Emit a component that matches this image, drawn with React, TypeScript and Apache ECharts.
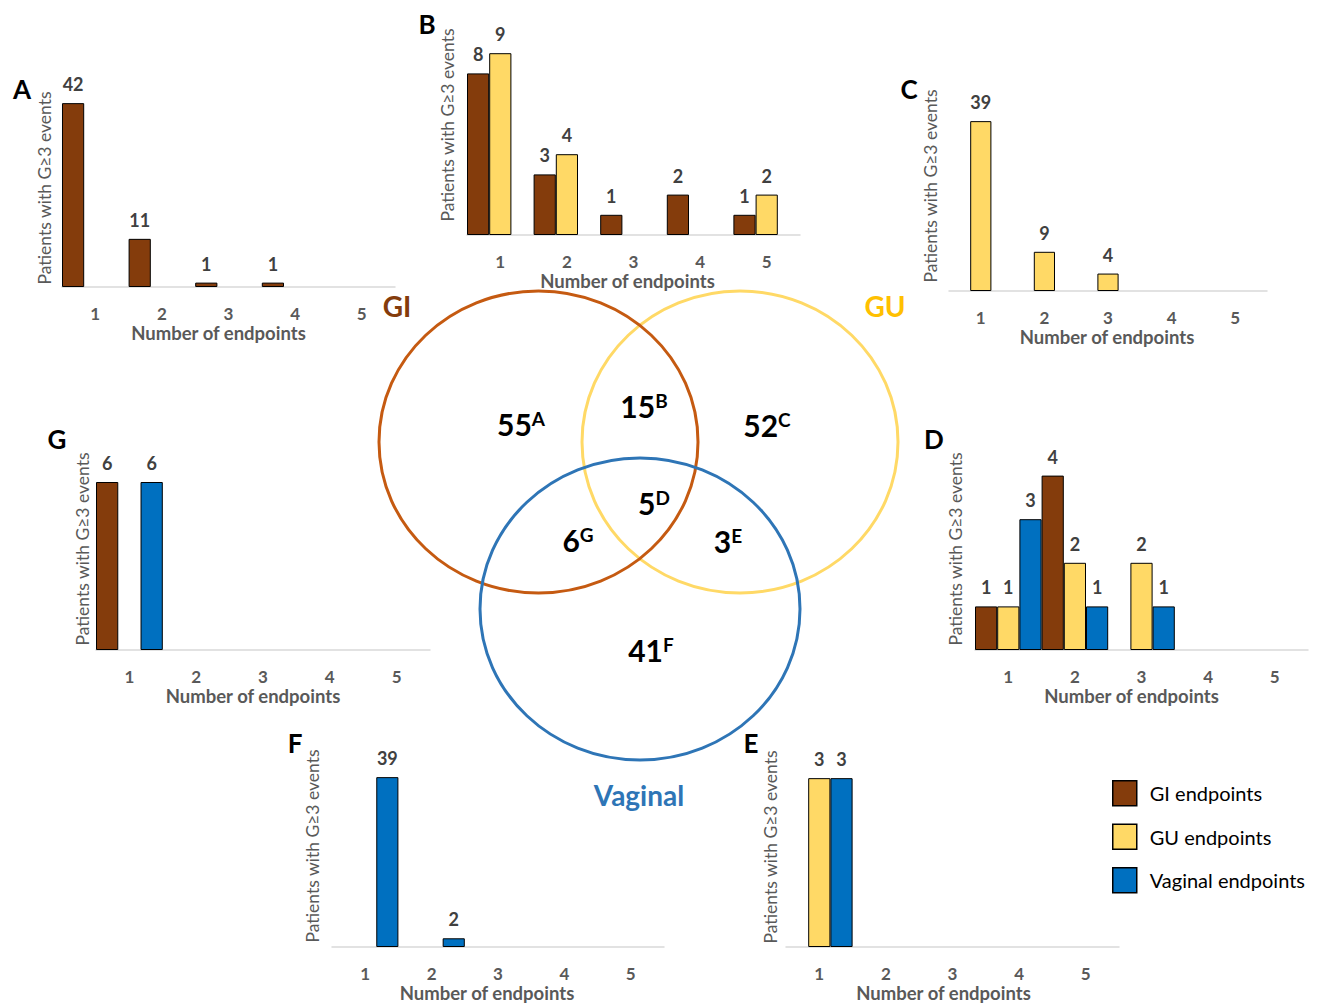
import React, { useEffect, useRef } from 'react';
import * as echarts from 'echarts';

// ---------- data ----------
const categories = ['1', '2', '3', '4', '5'];
const seriesNames = ['GI endpoints', 'GU endpoints', 'Vaginal endpoints'];
const seriesColors = ['#843C0C', '#FFD966', '#0070C0'];

const panelA_GI = [42, 11, 1, 1, 0];
const panelA_GU = [0, 0, 0, 0, 0];
const panelA_Vag = [0, 0, 0, 0, 0];

const panelB_GI = [8, 3, 1, 2, 1];
const panelB_GU = [9, 4, 0, 0, 2];
const panelB_Vag = [0, 0, 0, 0, 0];

const panelC_GI = [0, 0, 0, 0, 0];
const panelC_GU = [39, 9, 4, 0, 0];
const panelC_Vag = [0, 0, 0, 0, 0];

const panelD_GI = [1, 4, 0, 0, 0];
const panelD_GU = [1, 2, 2, 0, 0];
const panelD_Vag = [3, 1, 1, 0, 0];

const panelE_GI = [0, 0, 0, 0, 0];
const panelE_GU = [3, 0, 0, 0, 0];
const panelE_Vag = [3, 0, 0, 0, 0];

const panelF_GI = [0, 0, 0, 0, 0];
const panelF_GU = [0, 0, 0, 0, 0];
const panelF_Vag = [39, 2, 0, 0, 0];

const panelG_GI = [6, 0, 0, 0, 0];
const panelG_GU = [0, 0, 0, 0, 0];
const panelG_Vag = [6, 0, 0, 0, 0];

const vennRegions = ['A', 'B', 'C', 'D', 'E', 'F', 'G'];
const vennValues = [55, 15, 52, 5, 3, 41, 6];
const vennSets = ['GI', 'GU', 'Vaginal'];

const yTitle = 'Patients with G≥3 events';
const xTitle = 'Number of endpoints';

// ---------- layout / style ----------
const FONT = 'Lato, "Open Sans", sans-serif';
const GRAY = '#595959';
const DARK = '#404040';

const panels = [
  { id: 'A', data: [panelA_GI, panelA_GU, panelA_Vag], yMax: 45, grid: { left: 62, top: 90, width: 333, height: 197 }, letter: [22, 89], yt: [44, 188], nameShift: 10 },
  { id: 'B', data: [panelB_GI, panelB_GU, panelB_Vag], yMax: 10, grid: { left: 467, top: 33, width: 333, height: 202 }, letter: [427, 24], yt: [447, 125], nameShift: 6 },
  { id: 'C', data: [panelC_GI, panelC_GU, panelC_Vag], yMax: 45, grid: { left: 949, top: 95, width: 318, height: 196 }, letter: [909, 89], yt: [930, 186], nameShift: 1 },
  { id: 'D', data: [panelD_GI, panelD_GU, panelD_Vag], yMax: 5, grid: { left: 975, top: 432, width: 333, height: 218 }, letter: [934, 439], yt: [955, 549], nameShift: 10 },
  { id: 'E', data: [panelE_GI, panelE_GU, panelE_Vag], yMax: 3.5, grid: { left: 786, top: 750, width: 333, height: 197 }, letter: [751, 743], yt: [770, 847], nameShift: 9 },
  { id: 'F', data: [panelF_GI, panelF_GU, panelF_Vag], yMax: 45, grid: { left: 332, top: 751, width: 332, height: 196 }, letter: [295, 743], yt: [312, 846], nameShift: 11 },
  { id: 'G', data: [panelG_GI, panelG_GU, panelG_Vag], yMax: 7, grid: { left: 96, top: 454, width: 334, height: 196 }, letter: [57, 439], yt: [82, 549], nameShift: 10 },
];

const vennLabelPos: Record<string, [number, number]> = {
  A: [521, 424], B: [644, 406], C: [767, 425], D: [654, 503], E: [728, 541], F: [651, 650], G: [578, 540],
};
const ellipses = [
  { cx: 740, cy: 442, rx: 158, ry: 151, stroke: '#FFD966' },
  { cx: 538.5, cy: 442, rx: 159.5, ry: 151, stroke: '#C55A11' },
  { cx: 640, cy: 609, rx: 160, ry: 151, stroke: '#2E75B6' },
];
const setLabels = [
  { text: vennSets[0], x: 397, y: 306, fill: '#843C0C' },
  { text: vennSets[1], x: 885, y: 306, fill: '#FFC000' },
  { text: vennSets[2], x: 639, y: 795, fill: '#2E75B6' },
];

function buildOption() {
  const grid: any[] = [];
  const xAxis: any[] = [];
  const yAxis: any[] = [];
  const series: any[] = [];
  const graphic: any[] = [];

  panels.forEach((p, i) => {
    grid.push({ ...p.grid, outerBoundsMode: 'none', containLabel: false });
    xAxis.push({
      type: 'category',
      gridIndex: i,
      data: categories,
      axisLine: { show: true, lineStyle: { color: '#D9D9D9', width: 1.5 } },
      axisTick: { show: false },
      axisLabel: { color: GRAY, fontSize: 17, fontWeight: 'bold', fontFamily: FONT, margin: 18 },
      name: xTitle,
      nameLocation: 'middle',
      nameGap: 36,
      nameTextStyle: {
        color: GRAY,
        fontSize: 18.5,
        fontWeight: 'bold',
        fontFamily: FONT,
        padding: [0, p.nameShift * 2, 0, 0],
      },
      splitLine: { show: false },
    });
    yAxis.push({ type: 'value', gridIndex: i, min: 0, max: p.yMax, show: false, splitLine: { show: false } });
    p.data.forEach((arr, k) => {
      series.push({
        type: 'bar',
        name: seriesNames[k],
        xAxisIndex: i,
        yAxisIndex: i,
        data: arr.map((v) => (v > 0 ? v : null)),
        barGap: '0%',
        barCategoryGap: '0%',
        itemStyle: { color: seriesColors[k], borderColor: '#000', borderWidth: 1 },
        label: {
          show: true,
          position: 'top',
          distance: 10,
          color: DARK,
          fontSize: 18,
          fontWeight: 'bold',
          fontFamily: FONT,
        },
      });
    });
    graphic.push({
      type: 'text',
      x: p.letter[0],
      y: p.letter[1],
      style: { text: p.id, fontSize: 26, fontWeight: 'bold', fontFamily: FONT, fill: '#000', align: 'center', verticalAlign: 'middle', textAlign: 'center', textVerticalAlign: 'middle' },
    });
    graphic.push({
      type: 'text',
      x: p.yt[0],
      y: p.yt[1],
      rotation: Math.PI / 2,
      style: { text: yTitle, fontSize: 17.5, fontFamily: FONT, fill: GRAY, align: 'center', verticalAlign: 'middle', textAlign: 'center', textVerticalAlign: 'middle' },
    });
  });

  ellipses.forEach((e) => {
    graphic.push({
      type: 'ellipse',
      shape: { cx: e.cx, cy: e.cy, rx: e.rx, ry: e.ry },
      style: { fill: 'none', stroke: e.stroke, lineWidth: 3 },
    });
  });

  setLabels.forEach((s) => {
    graphic.push({
      type: 'text',
      x: s.x,
      y: s.y,
      style: { text: s.text, fontSize: 28, fontWeight: 'bold', fontFamily: FONT, fill: s.fill, align: 'center', verticalAlign: 'middle', textAlign: 'center', textVerticalAlign: 'middle' },
    });
  });

  vennRegions.forEach((r, i) => {
    const pos = vennLabelPos[r];
    graphic.push({
      type: 'text',
      x: pos[0],
      y: pos[1],
      style: {
        text: `{n|${vennValues[i]}}{s|${r}}`,
        align: 'center',
        verticalAlign: 'middle',
        textAlign: 'center',
        textVerticalAlign: 'middle',
        rich: {
          n: { fontSize: 30, fontWeight: 'bold', fontFamily: FONT, fill: '#000', color: '#000', lineHeight: 30 },
          s: { fontSize: 19, fontWeight: 'bold', fontFamily: FONT, fill: '#000', color: '#000', lineHeight: 19, verticalAlign: 'top' },
        },
      },
    });
  });

  return {
    animation: false,
    backgroundColor: '#fff',
    textStyle: { fontFamily: FONT },
    legend: {
      data: seriesNames,
      orient: 'vertical',
      left: 1107,
      top: 775,
      itemWidth: 24,
      itemHeight: 25,
      itemGap: 17,
      icon: 'rect',
      selectedMode: false,
      itemStyle: { borderColor: '#000', borderWidth: 1.5 },
      textStyle: { color: '#000', fontSize: 20, fontFamily: FONT, padding: [0, 0, 0, 8] },
    },
    grid,
    xAxis,
    yAxis,
    series,
    graphic,
  };
}

export default function App() {
  const ref = useRef<HTMLDivElement>(null);
  useEffect(() => {
    document.body.style.margin = '0';
    if (!ref.current) return;
    const chart = echarts.init(ref.current, undefined, { renderer: 'svg' });
    chart.setOption(buildOption() as any);
    return () => chart.dispose();
  }, []);
  return <div ref={ref} style={{ width: 1323, height: 1004 }} />;
}
